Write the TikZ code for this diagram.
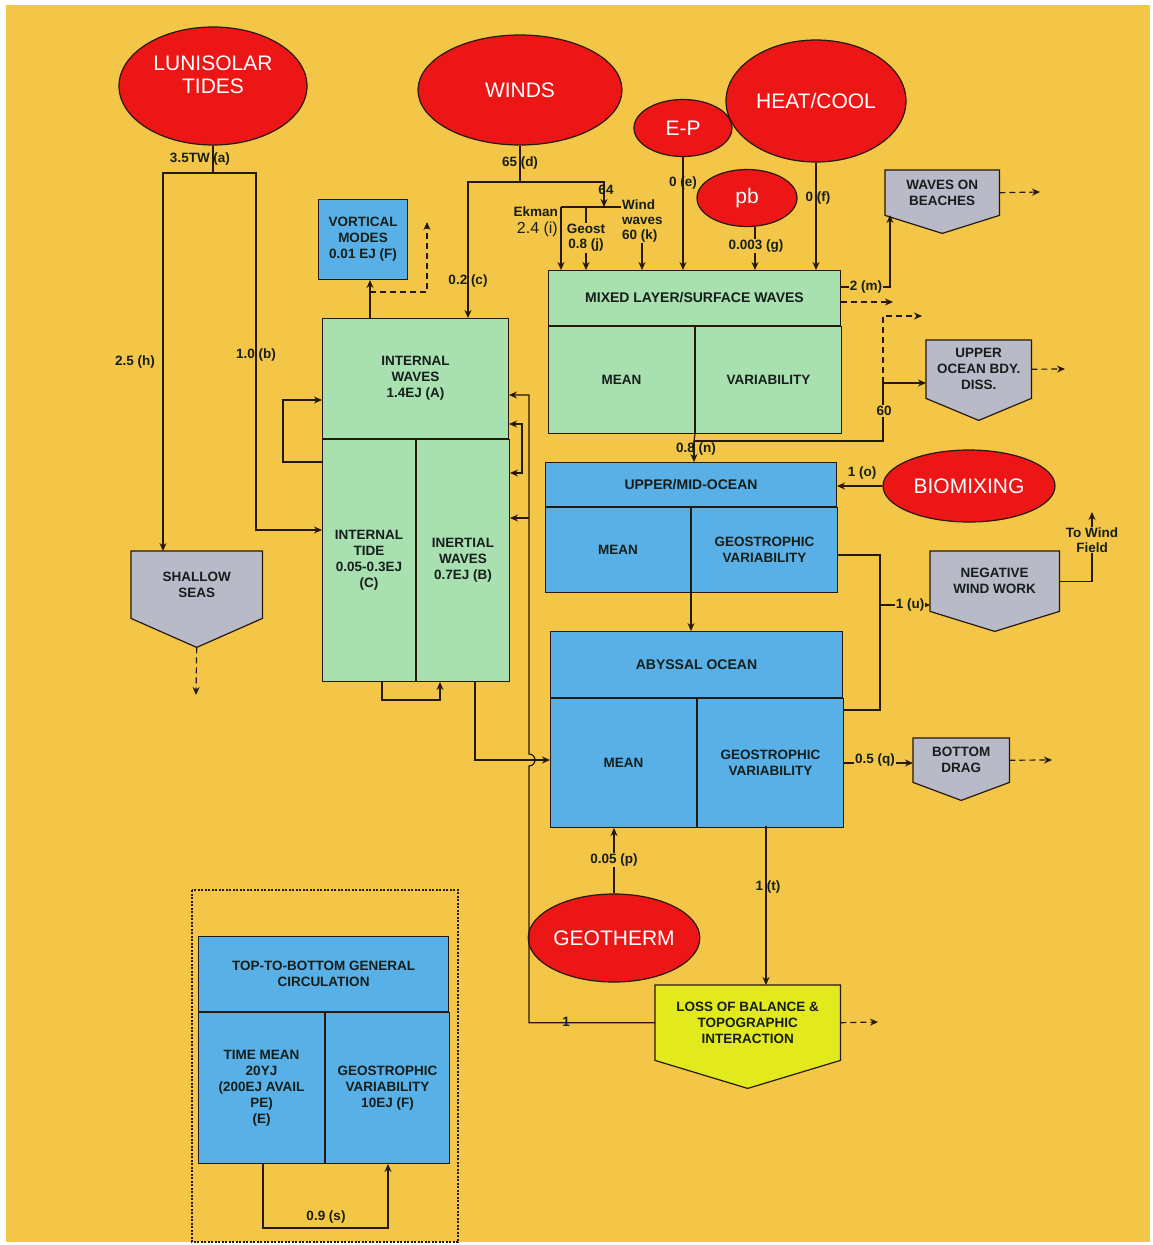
\documentclass[tikz,border=0pt]{standalone}
\usepackage{fontspec}
\setmainfont{Liberation Sans}
\usetikzlibrary{arrows.meta,positioning,calc,backgrounds,shapes.geometric}

\definecolor{paper}{RGB}{244,198,72}
\definecolor{tidered}{RGB}{236,22,22}
\definecolor{wavegreen}{RGB}{168,224,176}
\definecolor{oceanblue}{RGB}{88,176,230}
\definecolor{sinkgray}{RGB}{184,186,200}
\definecolor{losslime}{RGB}{226,234,30}
\definecolor{edge}{RGB}{38,24,10}
\definecolor{ink}{RGB}{22,30,28}

\newcommand\srcfont{\fontsize{21}{23}\selectfont}
\newcommand\partfont{\bfseries\fontsize{13.5}{16}\selectfont}
\newcommand\headfont{\bfseries\fontsize{14}{16}\selectfont}
\newcommand\lblfont{\bfseries\fontsize{13.5}{15}\selectfont}

% pentagon under a sink node: name, depth of tip, fill
\newcommand\sinkpoint[3]{%
  \coordinate (#1tip) at ($(#1.south)+(0,#2)$);
  \begin{pgfonlayer}{background}
    \filldraw[sinkline,fill=#3] (#1.north west) -- (#1.north east) -- (#1.south east)
      -- (#1tip) -- (#1.south west) -- cycle;
  \end{pgfonlayer}}

\begin{document}
\begin{tikzpicture}[x=1pt,y=-1pt,
  src/.style={ellipse,draw=edge,line width=1.2pt,fill=tidered,text=white,inner sep=0pt,align=center,font=\srcfont},
  part/.style={rectangle,draw=edge,line width=1pt,inner sep=2pt,align=center,font=\partfont,text=ink,anchor=north west},
  sink/.style={rectangle,inner sep=2pt,align=center,font=\partfont,text=ink,anchor=north west},
  sinkline/.style={draw=edge,line width=1.2pt},
  wire/.style={draw=edge,line width=1.2pt},
  flow/.style={wire,-{Stealth[length=8pt,width=7pt]}},
  twoway/.style={wire,{Stealth[length=8pt,width=7pt]}-{Stealth[length=8pt,width=7pt]}},
  loss/.style={flow,dash pattern=on 6pt off 4pt},
  lbl/.style={font=\lblfont,text=ink,inner sep=1pt,align=center},
  onwire/.style={lbl,fill=paper},
  boxline/.style={draw=edge,line width=1.2pt,dash pattern=on 2pt off 1.5pt}]

  \begin{pgfonlayer}{background}
    \fill[white] (0,0) rectangle (1153,1245);
    \fill[paper] (6,5) rectangle (1150,1242);
  \end{pgfonlayer}
  \useasboundingbox (0,0) rectangle (1153,1245);

  % sources
  \node[src,minimum width=188,minimum height=118] (lt) at (213,86) {LUNISOLAR\\TIDES\\~};
  \node[src,minimum width=204,minimum height=110] (wd) at (520,90) {WINDS};
  \node[src,minimum width=98,minimum height=57] (ep) at (683,128) {E-P};
  \node[src,minimum width=180,minimum height=122] (hc) at (816,101) {HEAT/COOL};
  \node[src,minimum width=100,minimum height=57] (pb) at (747,198) {pb};
  \node[src,minimum width=172,minimum height=72] (bio) at (969,486) {BIOMIXING};
  \node[src,minimum width=155,minimum height=88] (geo) at (614,938) {GEOTHERM};

  % reservoirs
  \node[part,fill=oceanblue,minimum width=89,minimum height=80] (vm) at (318,199) {VORTICAL\\MODES\\0.01 EJ (F)};
  \node[part,fill=wavegreen,minimum width=186,minimum height=120] (iw) at (322,318) {INTERNAL\\WAVES\\1.4EJ (A)};
  \node[part,fill=wavegreen,minimum width=93,minimum height=242] (it) at (iw.south west) {INTERNAL\\TIDE\\0.05-0.3EJ\\(C)};
  \node[part,fill=wavegreen,minimum width=93,minimum height=242] (iner) at (it.north east) {INERTIAL\\WAVES\\0.7EJ (B)};

  \node[part,fill=wavegreen,minimum width=292,minimum height=55,font=\headfont] (ml) at (548,270) {MIXED LAYER/SURFACE WAVES};
  \node[part,fill=wavegreen,minimum width=146,minimum height=107] (mlm) at (ml.south west) {MEAN};
  \node[part,fill=wavegreen,minimum width=146,minimum height=107] (mlv) at (mlm.north east) {VARIABILITY};

  \node[part,fill=oceanblue,minimum width=291,minimum height=44,font=\headfont] (um) at (545,462) {UPPER/MID-OCEAN};
  \node[part,fill=oceanblue,minimum width=145,minimum height=85] (umm) at (um.south west) {MEAN};
  \node[part,fill=oceanblue,minimum width=146,minimum height=85] (umg) at (umm.north east) {GEOSTROPHIC\\VARIABILITY};

  \node[part,fill=oceanblue,minimum width=292,minimum height=66,font=\headfont] (ab) at (550,631) {ABYSSAL OCEAN};
  \node[part,fill=oceanblue,minimum width=146,minimum height=129] (abm) at (ab.south west) {MEAN};
  \node[part,fill=oceanblue,minimum width=146,minimum height=129] (abg) at (abm.north east) {GEOSTROPHIC\\VARIABILITY};

  \node[part,fill=oceanblue,minimum width=250,minimum height=75] (tb) at (198,936) {TOP-TO-BOTTOM GENERAL\\CIRCULATION};
  \node[part,fill=oceanblue,minimum width=126,minimum height=151] (tbm) at (tb.south west) {TIME MEAN\\20YJ\\(200EJ AVAIL\\PE)\\(E)};
  \node[part,fill=oceanblue,minimum width=124,minimum height=151] (tbg) at (tbm.north east) {GEOSTROPHIC\\VARIABILITY\\10EJ (F)};
  \draw[boxline] (192,890) rectangle (458,1242);

  % sinks
  \node[sink,minimum width=131,minimum height=67] (ss) at (131,551) {SHALLOW\\SEAS};
  \sinkpoint{ss}{29}{sinkgray}
  \node[sink,minimum width=114,minimum height=45] (wb) at (885,170) {WAVES ON\\BEACHES};
  \sinkpoint{wb}{18}{sinkgray}
  \node[sink,minimum width=105,minimum height=58] (ub) at (926,340) {UPPER\\OCEAN BDY.\\DISS.};
  \sinkpoint{ub}{22}{sinkgray}
  \node[sink,minimum width=129,minimum height=60] (nw) at (930,551) {NEGATIVE\\WIND WORK};
  \sinkpoint{nw}{20}{sinkgray}
  \node[sink,minimum width=96,minimum height=44] (bd) at (913,738) {BOTTOM\\DRAG};
  \sinkpoint{bd}{18}{sinkgray}
  \node[sink,minimum width=185,minimum height=75] (lb) at (655,985) {LOSS OF BALANCE \&\\TOPOGRAPHIC\\INTERACTION};
  \sinkpoint{lb}{28}{losslime}

  % tides
  \coordinate (ltj) at (213,173);
  \coordinate (tl) at (163,173);
  \coordinate (tr) at (256,173);
  \coordinate (itin) at (it.west |- 0,530);
  \draw[wire] (lt) -- (ltj);
  \draw[flow] (ltj) -- (tl) -- (tl |- ss.north);
  \draw[flow] (ltj) -- (tr) |- (itin);
  \node[lbl] (l35) at (200,159) {3.5TW (a)};
  \node[lbl] (l25) at (135,362) {2.5 (h)};
  \node[lbl] (l10) at (256,355) {1.0 (b)};

  % winds
  \coordinate (wdj) at (520,182);
  \coordinate (wl) at (468,182);
  \coordinate (wr) at (604,182);
  \coordinate (wk) at (604,207);
  \coordinate (ek) at (561,207);
  \coordinate (gs) at (586,207);
  \coordinate (kin) at (642,270);
  \draw[wire] (wd) -- (wdj);
  \draw[flow] (wdj) -- (wl) -- (wl |- iw.north);
  \draw[flow] (wdj) -- (wr) -- (wk);
  \node[lbl,anchor=west,align=left] (kk) at (621,221) {Wind\\waves\\60 (k)};
  \draw[wire] (ek) -- (kk.west |- ek);
  \draw[flow] (ek) -- (ek |- ml.north);
  \draw[flow] (gs) -- (gs |- ml.north);
  \draw[flow] (kin |- kk.south) -- (kin);
  \node[lbl] (l65) at (520,163) {65 (d)};
  \node[lbl] (l02) at (468,281) {0.2 (c)};
  \node[lbl] (l64) at (606,190) {64};
  \node[lbl,anchor=east] (lek) at (559,212) {Ekman};
  \node[lbl,anchor=east,font=\fontsize{16}{17}\selectfont] (l24) at (559,229) {2.4 (i)};
  \node[onwire] (lgs) at (586,238) {Geost\\0.8 (j)};

  % buoyancy
  \coordinate (pbin) at (755,270);
  \draw[flow] (ep) -- (ep |- ml.north);
  \draw[flow] (hc) -- (hc |- ml.north);
  \draw[flow] (pbin |- pb.south) -- (pbin);
  \node[lbl] (l0e) at (683,183) {0 (e)};
  \node[lbl] (l0f) at (818,198) {0 (f)};
  \node[onwire] (l0g) at (756,246) {0.003 (g)};

  % mixed layer out
  \coordinate (mout) at (ml.east |- 0,287);
  \coordinate (wbin) at (890,215);
  \coordinate (mdash) at (893,302);
  \coordinate (mj) at (694,441);
  \coordinate (uj) at (883,441);
  \coordinate (ubin) at (ub.west |- 0,383);
  \coordinate (uo) at (922,316);
  \coordinate (ubo) at (1065,369);
  \coordinate (wbo) at (1040,192);
  \draw[flow] (mout) -| (wbin);
  \draw[loss] (ml.east |- mdash) -- (mdash);
  \draw[wire] (mlv.south west) -- (mj);
  \draw[flow] (mj) -- (mj |- um.north);
  \draw[flow] (mj) -- (uj) |- (ubin);
  \draw[loss] (ubin -| uj) |- (uo);
  \draw[loss] (ub.east) -- (ubo);
  \draw[loss] (wb.east) -- (wbo);
  \node[onwire] (l2m) at (866,287) {2 (m)};
  \node[onwire] (l60) at (884,411) {60};
  \node[lbl] (l08) at (696,449) {0.8 (n)};

  % upper and abyssal ocean
  \coordinate (gr) at (880,555);
  \coordinate (gb) at (880,710);
  \coordinate (nwin) at (930,605);
  \coordinate (tw) at (1092,512);
  \coordinate (bdo) at (1052,760);
  \coordinate (abt) at (766,826);
  \draw[flow] (bio) -- (bio -| um.east);
  \draw[flow] (umg.south west) -- (umg.south west |- ab.north);
  \draw[wire] (umg.east |- gr) -- (gr) -- (gb) -- (gb -| abg.east);
  \draw[flow] (nwin -| gr) -- (nwin);
  \draw[flow] (nw.east) -| (tw);
  \draw[flow] (abg.east) -- (abg.east -| bd.west);
  \draw[loss] (bd.east) -- (bdo);
  \draw[flow] (geo) -- (geo |- abm.south);
  \draw[flow] (abt) -- (abt |- lb.north);
  \node[lbl] (l1o) at (862,473) {1 (o)};
  \node[onwire] (l1u) at (910,605) {1 (u)};
  \node[onwire] (ltw) at (1092,540) {To Wind\\Field};
  \node[onwire] (l05q) at (875,760) {0.5 (q)};
  \node[onwire] (l05p) at (614,860) {0.05 (p)};
  \node[lbl] (l1t) at (768,887) {1 (t)};

  % internal waves
  \coordinate (ia) at (475,760);
  \coordinate (hop) at (529,766);
  \coordinate (iwr) at (iw.east |- 0,395);
  \coordinate (iwr2) at (iner.east |- 0,518);
  \coordinate (lp1) at (iw.east |- 0,424);
  \coordinate (lpc) at (522,424);
  \coordinate (lp2) at (iner.east |- 0,473);
  \coordinate (ll) at (283,462);
  \coordinate (bl) at (382,700);
  \coordinate (blr) at (440,700);
  \coordinate (vj) at (370,292);
  \coordinate (vd) at (427,222);
  \coordinate (lbo) at (878,1022);
  \coordinate (ssout) at (196,695);
  \draw[flow] (ia |- iner.south) -- (ia) -- (ia -| abm.west);
  \draw[flow] (lb.west) -| (hop) arc[start angle=-90,end angle=90,radius=6pt] |- (iwr);
  \draw[flow] (iwr2 -| hop) -- (iwr2);
  \draw[twoway] (lp1) -- (lpc) |- (lp2);
  \draw[flow] (ll -| it.west) -- (ll) |- (iw.west |- 0,400);
  \draw[flow] (bl |- it.south) -- (bl) -- (blr) -- (blr |- iner.south);
  \draw[flow] (vj |- iw.north) -- (vj |- vm.south);
  \draw[loss] (vj) -| (vd);
  \draw[loss] (lb.east) -- (lbo);
  \draw[loss] (sstip) -- (ssout);
  \node[lbl] (l1) at (566,1022) {1};

  % general circulation
  \coordinate (tl1) at (263,1228);
  \coordinate (tl2) at (388,1228);
  \draw[flow] (tl1 |- tbm.south) -- (tl1) -- (tl2) -- (tl2 |- tbg.south);
  \node[lbl] (l09) at (326,1217) {0.9 (s)};
\end{tikzpicture}
\end{document}
